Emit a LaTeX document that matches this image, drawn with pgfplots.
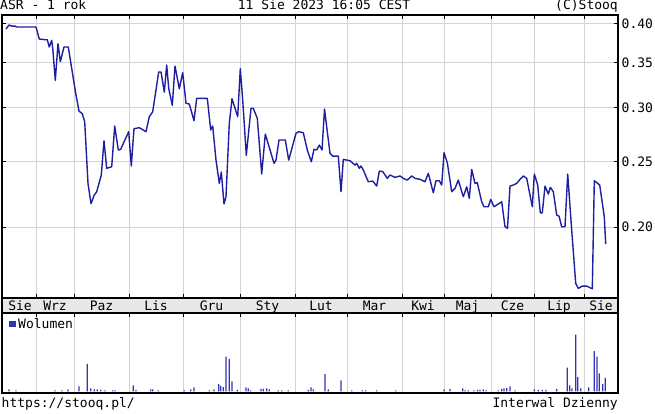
\documentclass[border=0pt]{standalone}
\usepackage{pgfplots}
\pgfplotsset{compat=1.18}
\usepackage{fontspec}
\setmainfont{DejaVu Sans Mono}
\setmonofont{DejaVu Sans Mono}
\definecolor{lineblue}{RGB}{30,30,160}
\definecolor{volblue}{RGB}{50,50,180}
\definecolor{gridgray}{RGB}{212,212,212}
\definecolor{bandgray}{RGB}{232,232,232}

\pgfplotstableread{
x y
6 0.3923
9 0.3977
11.7 0.3963
15 0.3963
16.7 0.3950
36 0.3950
39.3 0.3792
45 0.3783
47.3 0.3783
49.3 0.3690
51.7 0.3775
52.7 0.3678
55.3 0.3295
58 0.3732
60.3 0.3510
64 0.3690
68.3 0.3690
71.7 0.3432
75.7 0.3152
79 0.2968
82.3 0.2941
84.7 0.2862
88 0.2321
91 0.2166
94.3 0.2231
96.7 0.2256
101.3 0.2388
104 0.2683
106.7 0.2443
111.7 0.2456
114.7 0.2821
118.3 0.2600
120.7 0.2606
128.7 0.2767
131.3 0.2462
134 0.2795
139.3 0.2805
146 0.2767
149.3 0.2912
152.7 0.2961
158.7 0.3390
161 0.3390
164.3 0.3166
166.7 0.3471
168.7 0.3207
172.3 0.3027
175 0.3459
179.3 0.3202
182.7 0.3382
186 0.3047
189.3 0.3040
194 0.2872
196.7 0.3099
207.3 0.3099
210.7 0.2783
212.7 0.2821
216 0.2512
219.3 0.2321
221.3 0.2412
224 0.2164
226 0.2218
229.3 0.2847
232 0.3095
237.7 0.2912
240.3 0.3428
242.7 0.3082
246.3 0.2553
251 0.2996
253.3 0.2996
257.3 0.2896
261.7 0.2396
265.3 0.2745
274 0.2485
276 0.2512
279 0.2690
285.3 0.2690
288.7 0.2512
296 0.2752
298.7 0.2767
303.3 0.2757
307.3 0.2600
311.3 0.2498
314 0.2606
316.7 0.2600
319.3 0.2644
322 0.2600
324.5 0.2988
330 0.2570
332.7 0.2547
338.3 0.2547
341 0.2256
343.3 0.2518
350 0.2507
355 0.2470
356.7 0.2485
359.3 0.2443
361 0.2462
363.3 0.2429
368.3 0.2334
372.7 0.2339
376.7 0.2300
379.3 0.2420
382.7 0.2416
387.3 0.2361
390 0.2388
395 0.2369
400 0.2380
403.3 0.2361
407.3 0.2347
411.7 0.2380
415 0.2361
420 0.2353
425 0.2334
428.3 0.2402
433.3 0.2248
436 0.2342
439.3 0.2342
441.7 0.2308
444 0.2576
447.3 0.2490
451.7 0.2256
455 0.2282
458.3 0.2347
463.3 0.2218
466.7 0.2294
469.3 0.2206
471.7 0.2434
475 0.2321
477.3 0.2326
481.7 0.2180
484 0.2144
488.3 0.2144
490.7 0.2198
494 0.2144
501.7 0.2180
505 0.2003
507.5 0.1992
510 0.2300
513.3 0.2308
516.7 0.2321
520 0.2353
523.3 0.2380
526.7 0.2361
532.3 0.2144
534.3 0.2396
537.7 0.2308
540.3 0.2100
542.3 0.2100
545 0.2300
548.3 0.2238
550.3 0.2290
553.3 0.2256
556.7 0.2084
559 0.2077
561.7 0.2003
565 0.2003
567.7 0.2396
571.7 0.1980
575.7 0.1652
578.3 0.1624
582.3 0.1637
586.7 0.1637
592.3 0.1622
594.3 0.2342
599.7 0.2308
604.3 0.2072
605.7 0.1888
}\pricedata

\pgfplotstableread{
x v
9 2
16 1
55 1
62 1
68 2
79 5
87.3 27.7
90.7 3
94.3 2
97.3 2
100.7 1.5
105 1
112.7 1
115 1
133.3 6
136 1.5
150.7 2
152.7 2
158.3 1
184.3 1
190.7 2
194 4
209.3 1
214 2
218.7 7.7
220.7 5.7
223.3 4.3
226 35
229.3 32.7
232 10
237.3 1.5
246 4
248.3 3
250.7 1
261 2.5
263.3 2.5
266.7 3
269.3 2
278.3 1
281.7 1
288.3 1
308.3 1.5
311 4
313.3 2
325 17.3
328.3 2
341 11
351.7 1
362.3 1
365.7 1
376.7 1
395.7 1
444 2
450 2.5
462.7 3
465 1
468.3 1
474 1
477.7 1.5
480 1.5
483.3 2
486 1
498.3 1
501.7 2.5
504 3
506.7 3.5
510 5
515 1
534.3 2
538.3 1.5
542.3 1.5
546 1.5
556.7 2.5
567.3 24
569.7 6
572 3
575.7 57.3
577.7 14.3
580.7 3
588.7 4
594.3 40.7
597 35
599.3 18.3
602.7 7.7
605.3 13.7
}\voldata

\begin{document}
\begin{tikzpicture}[x=1pt,y=1pt,font=\fontsize{13}{15}\selectfont]
\useasboundingbox (0,0) rectangle (655,413);

% title line
\node[anchor=base west,inner sep=0pt] at (0,403) {ASR - 1 rok};
\node[anchor=base,inner sep=0pt] at (324,403) {11 Sie 2023 16:05 CEST};
\node[anchor=base east,inner sep=0pt] at (618,403) {(C)Stooq};

% month band
\fill[bandgray] (2,100) rectangle (618,115);
\foreach \cx/\lab in {20/Sie,55/Wrz,101.5/Paz,156/Lis,211.5/Gru,267.5/Sty,321/Lut,374.5/Mar,423/Kwi,467.5/Maj,512.5/Cze,559/Lip,601/Sie}
  \node[anchor=base,inner sep=0pt] at (\cx,103) {\lab};

\begin{axis}[
  at={(2pt,115pt)}, anchor=south west,
  width=616pt, height=283pt, scale only axis,
  xmin=2, xmax=618,
  ymode=log, ymin=0.1572, ymax=0.4114,
  ytick={0.2,0.25,0.3,0.35,0.4},
  yticklabels={\texttt{0.20},\texttt{0.25},\texttt{0.30},\texttt{0.35},\texttt{0.40}},
  yticklabel pos=right,
  yticklabel style={anchor=west,inner sep=0pt,xshift=3.5pt,font=\fontsize{13}{15}\selectfont},
  xtick={36,74,129,183,240,295,347,402,444,491,534,584},
  xticklabels={},
  minor tick num=0,
  grid=major,
  major grid style={gridgray,line width=0.9pt},
  axis line style={black,line width=1.3pt},
  tick style={black,line width=0.9pt},
  major tick length=4pt,
  tick align=inside,
]
\addplot[lineblue,line width=1.4pt,line join=round] table[x=x,y=y] {\pricedata};
\end{axis}

\begin{axis}[
  at={(2pt,20pt)}, anchor=south west,
  width=616pt, height=80pt, scale only axis,
  xmin=2, xmax=618,
  ymin=-1.6, ymax=79,
  ytick=\empty,
  xtick={36,74,129,183,240,295,347,402,444,491,534,584},
  xticklabels={},
  xmajorgrids,
  major grid style={gridgray,line width=0.9pt},
  axis line style={black,line width=1.3pt},
  tick style={black,line width=0.9pt},
  major tick length=4pt,
  tick align=inside,
  xtick pos=right,
]
\addplot[ybar,bar width=1.2pt,fill=volblue,draw=none] table[x=x,y=v] {\voldata};
\end{axis}

% legend of the volume panel
\fill[volblue] (9.3,85.7) rectangle (16,92.3);
\node[anchor=base west,inner sep=0pt] at (18,85) {Wolumen};

% band frame
\draw[line width=1.3pt] (2,100) rectangle (618,115);

% bottom line
\node[anchor=base west,inner sep=0pt] at (1.5,6) {https://stooq.pl/};
\node[anchor=base east,inner sep=0pt] at (618,6) {Interwal Dzienny};
\end{tikzpicture}
\end{document}
